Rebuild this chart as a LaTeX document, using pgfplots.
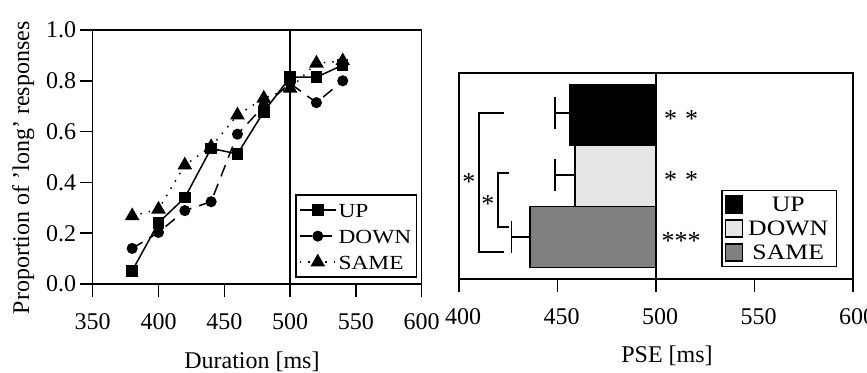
\documentclass[border=0pt]{standalone}
\usepackage{fontspec}
\setmainfont{Liberation Serif}
\newfontfamily\legfont[FakeStretch=1.17]{Liberation Serif}
\usepackage{pgfplots}
\pgfplotsset{compat=1.18}
\begin{document}
\begin{tikzpicture}[x=1pt,y=1pt]
\path[use as bounding box] (-92.7,-88) rectangle (774.3,284);
\pgfplotsset{
  common/.style={
    scale only axis,
    clip=false,
    tick align=outside,
    xtick pos=bottom,
    major tick length=13pt,
    axis line style={line width=1.5pt},
    every tick/.style={black, line width=1.5pt},
    tick label style={font=\fontsize{24}{28}\selectfont},
    xticklabel style={yshift=-13pt},
    label style={font=\fontsize{24}{28}\selectfont},
    /pgf/number format/assume math mode=true,
    minor tick num=0,
  }
}
\begin{axis}[
  common,
  at={(0pt,0pt)}, anchor=south west,
  width=329pt, height=254pt,
  xmin=350, xmax=600, ymin=0, ymax=1,
  xtick={350,400,450,500,550,600},
  ytick={0,0.2,0.4,0.6,0.8,1.0},
  ytick pos=left,
  yticklabel style={/pgf/number format/.cd, fixed, fixed zerofill, precision=1},
  xlabel={Duration [ms]},
  ylabel={Proportion of 'long' responses},
  xlabel style={at={(axis description cs:0.484,0)}, anchor=base, yshift=-84pt},
  ylabel style={at={(axis description cs:-0.1936,0.457)}, anchor=base},
  legend style={at={(rel axis cs:0.986,0.024)}, anchor=south east,
    draw=black, line width=1.5pt, font=\legfont\fontsize{20}{24}\selectfont,
    nodes={inner ysep=6pt, text height=14pt, text depth=0pt},
    row sep=0pt},
  legend cell align=left,
  legend image code/.code={\draw[mark repeat=2,mark phase=2,#1] plot coordinates {(0pt,0pt)(18pt,0pt)(36pt,0pt)};},
]
\addplot[forget plot, black, line width=1.5pt] coordinates {(500,0) (500,1)};
\addplot[black, line width=1.5pt, mark=square*, mark size=5pt, mark options={solid}]
  coordinates {(380,0.052) (400,0.241) (420,0.340) (440,0.534) (460,0.512) (480,0.678) (500,0.814) (520,0.814) (540,0.862)};
\addlegendentry{ UP}
\addplot[black, line width=1.5pt, dash pattern=on 12pt off 8pt, mark=*, mark size=4.75pt, mark options={solid}]
  coordinates {(380,0.140) (400,0.203) (420,0.289) (440,0.324) (460,0.590) (480,0.700) (500,0.790) (520,0.714) (540,0.800)};
\addlegendentry{DOWN}
\addplot[black, line width=1.5pt, dash pattern=on 1.5pt off 7pt, mark=triangle*, mark size=7pt, mark options={solid}]
  coordinates {(380,0.268) (400,0.294) (420,0.468) (440,0.540) (460,0.665) (480,0.731) (500,0.770) (520,0.869) (540,0.878)};
\addlegendentry{SAME}
\end{axis}

\begin{axis}[
  common,
  at={(366.3pt,5pt)}, anchor=south west,
  width=394pt, height=206pt,
  xmin=400, xmax=600, ymin=0.31, ymax=3.69,
  xtick={400,450,500,550,600},
  ytick=\empty,
  xticklabel style={xshift=4pt},
  xlabel={PSE [ms]},
  xlabel style={at={(axis description cs:0.528,0)}, anchor=base, yshift=-83pt},
  legend style={at={(rel axis cs:0.959,0.058)}, anchor=south east,
    draw=black, line width=1.2pt, font=\legfont\fontsize{22}{26}\selectfont,
    nodes={inner ysep=4.5pt, text height=15pt, text depth=0pt},
    row sep=0pt},
  legend cell align=center,
  legend image code/.code={\draw[#1, line width=1.2pt] (0pt,-8.5pt) rectangle (17pt,8.5pt);},
]
\addplot[fill=black, draw=black, line width=1.5pt]
  coordinates {(500,2.5) (456,2.5) (456,3.5) (500,3.5)} --cycle;
\addlegendentry{\makebox[86pt]{UP}}
\addplot[fill=black!10, draw=black, line width=1.5pt]
  coordinates {(500,1.5) (459,1.5) (459,2.5) (500,2.5)} --cycle;
\addlegendentry{\makebox[86pt]{DOWN}}
\addplot[fill=black!50, draw=black, line width=1.5pt]
  coordinates {(500,0.5) (436,0.5) (436,1.5) (500,1.5)} --cycle;
\addlegendentry{\makebox[86pt]{SAME}}
% error bars (horizontal whiskers and caps)
\addplot[forget plot, black, line width=1.5pt] coordinates {(456,3.03) (448.7,3.03)};
\addplot[forget plot, black, line width=1.5pt] coordinates {(448.7,2.77) (448.7,3.29)};
\addplot[forget plot, black, line width=1.5pt] coordinates {(459,2.02) (448.7,2.02)};
\addplot[forget plot, black, line width=1.5pt] coordinates {(448.7,1.76) (448.7,2.28)};
\addplot[forget plot, black, line width=1.5pt] coordinates {(436,1.0) (426.7,1.0)};
\addplot[forget plot, black, line width=1.5pt] coordinates {(426.7,0.74) (426.7,1.26)};
\addplot[forget plot, black, line width=1.5pt] coordinates {(500,0.31) (500,3.69)};
\addplot[forget plot, black, line width=1.5pt]
  coordinates {(422.8,3.03) (410.2,3.03) (410.2,0.75) (422.8,0.75)};
\addplot[forget plot, black, line width=1.5pt]
  coordinates {(425.4,2.05) (419.8,2.05) (419.8,1.16) (425.4,1.16)};
\node[font=\fontsize{26}{30}\selectfont, anchor=center] at (axis cs:405,1.90) {*};
\node[font=\fontsize{26}{30}\selectfont, anchor=center] at (axis cs:414.7,1.54) {*};
\node[font=\fontsize{26}{30}\selectfont, anchor=west] at (axis cs:502.3,2.93) {*\hspace{8pt}*};
\node[font=\fontsize{26}{30}\selectfont, anchor=west] at (axis cs:502.3,1.93) {*\hspace{8pt}*};
\node[font=\fontsize{26}{30}\selectfont, anchor=west, inner xsep=1pt] at (axis cs:502.3,0.93) {***};
\end{axis}
\end{tikzpicture}
\end{document}
